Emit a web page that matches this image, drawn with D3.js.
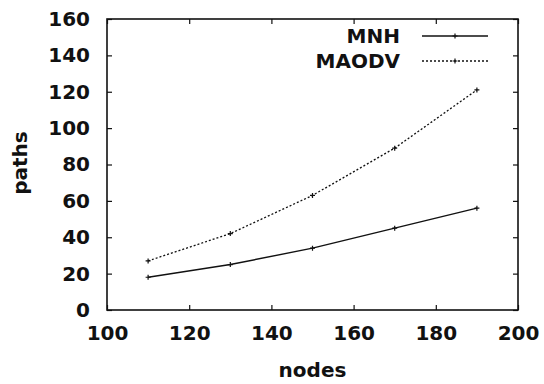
<!DOCTYPE html>
<html>
<head>
<meta charset="utf-8">
<script src="https://cdn.jsdelivr.net/npm/d3@7"></script>
<style>
  body { margin: 0; background: #fff; }
  text { font-family: "DejaVu Sans", sans-serif; font-weight: bold; fill: #111; }
</style>
</head>
<body>
<div id="chart"></div>
<script>
// data
const nodes = [110, 130, 150, 170, 190];
const mnh = [18, 25, 34, 45, 56];
const maodv = [27, 42, 63, 89, 121];
const xTicks = [100, 120, 140, 160, 180, 200];
const yTicks = [0, 20, 40, 60, 80, 100, 120, 140, 160];

const W = 544, H = 384;
const margin = { top: 19, right: 26, bottom: 74, left: 107 };
const width = W - margin.left - margin.right;
const height = H - margin.top - margin.bottom;

const svg = d3.select("#chart").append("svg")
    .attr("width", W)
    .attr("height", H);

const g = svg.append("g")
    .attr("transform", "translate(" + margin.left + "," + margin.top + ")");

const x = d3.scaleLinear().domain([100, 200]).range([0, width]);
const y = d3.scaleLinear().domain([0, 160]).range([height, 0]);

const tick = 5;

// inward ticks on all four sides
function axis(gen, tr) {
    const a = g.append("g").attr("transform", tr).call(gen);
    a.select(".domain").remove();
    a.selectAll("line").attr("stroke", "#111").attr("stroke-width", 1.2);
    return a;
}

const bottom = axis(d3.axisBottom(x).tickValues(xTicks).tickSize(-tick).tickPadding(16),
    "translate(0," + height + ")");
bottom.selectAll("text").attr("font-size", 20).attr("fill", "#111");

axis(d3.axisTop(x).tickValues(xTicks).tickSize(-tick).tickFormat(""), "translate(0,0)");

const left = axis(d3.axisLeft(y).tickValues(yTicks).tickSize(-tick).tickPadding(17),
    "translate(0,0)");
left.selectAll("text").attr("font-size", 20).attr("fill", "#111");

axis(d3.axisRight(y).tickValues(yTicks).tickSize(-tick).tickFormat(""),
    "translate(" + width + ",0)");

// frame
g.append("rect")
    .attr("width", width)
    .attr("height", height)
    .attr("fill", "none")
    .attr("stroke", "#111")
    .attr("stroke-width", 1.6);

// axis titles
svg.append("text")
    .attr("x", margin.left + width / 2)
    .attr("y", 377)
    .attr("text-anchor", "middle")
    .attr("font-size", 20)
    .text("nodes");

svg.append("text")
    .attr("transform", "translate(27,163) rotate(-90)")
    .attr("text-anchor", "middle")
    .attr("font-size", 20)
    .text("paths");

const series = [
    { name: "MNH", values: mnh, dash: null, width: 1.4 },
    { name: "MAODV", values: maodv, dash: "2,2", width: 1.3 }
];

const line = d3.line()
    .x((d, i) => x(nodes[i]))
    .y(d => y(d));

function marker(sel, cx, cy) {
    sel.append("path")
        .attr("d", "M" + (cx - 2.5) + "," + cy + "H" + (cx + 2.5) +
            "M" + cx + "," + (cy - 2.5) + "V" + (cy + 2.5))
        .attr("stroke", "#111")
        .attr("stroke-width", 1.2);
}

series.forEach((s, k) => {
    g.append("path")
        .datum(s.values)
        .attr("d", line)
        .attr("fill", "none")
        .attr("stroke", "#111")
        .attr("stroke-width", s.width)
        .attr("stroke-dasharray", s.dash);

    s.values.forEach((v, i) => marker(g, x(nodes[i]), y(v)));

    // legend entry
    const ly = 36 + k * 25 - margin.top;
    g.append("text")
        .attr("x", 400 - margin.left)
        .attr("y", ly + 7)
        .attr("text-anchor", "end")
        .attr("font-size", 20)
        .text(s.name);
    g.append("line")
        .attr("x1", 422 - margin.left)
        .attr("x2", 488 - margin.left)
        .attr("y1", ly)
        .attr("y2", ly)
        .attr("stroke", "#111")
        .attr("stroke-width", s.width)
        .attr("stroke-dasharray", s.dash);
    marker(g, 455 - margin.left, ly);
});
</script>
</body>
</html>
